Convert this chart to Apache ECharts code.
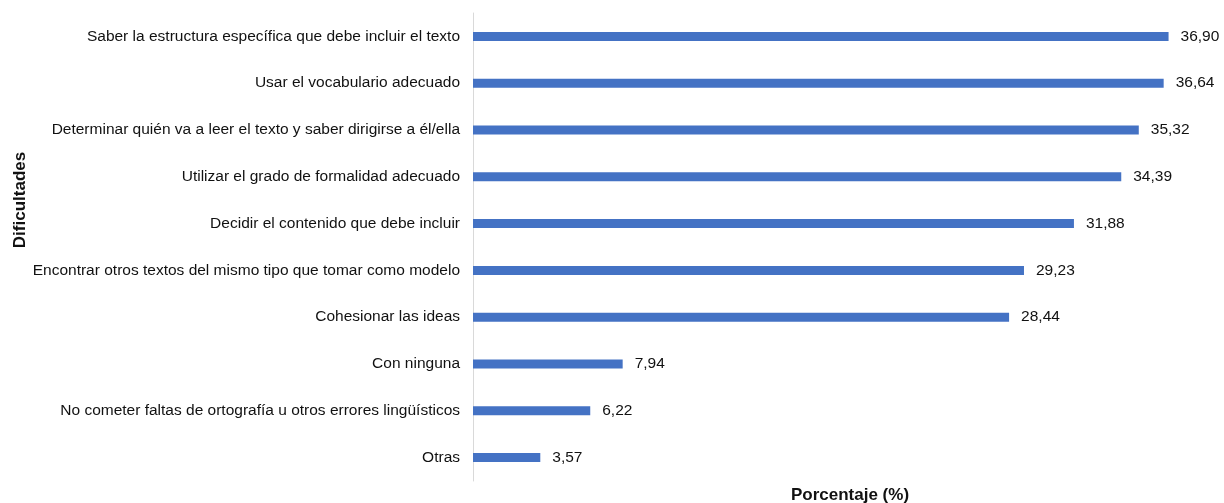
<!DOCTYPE html>
<html>
<head>
<meta charset="utf-8">
<script src="https://cdn.jsdelivr.net/npm/echarts@6/dist/echarts.min.js"></script>
<style>
  html, body { margin: 0; padding: 0; background: #fff; }
  #chart { width: 1224px; height: 503px; }
</style>
</head>
<body>
<div id="chart"></div>
<script>
// Categories listed bottom-to-top (ECharts category axis draws the first item at the bottom)
const categories = [
  'Otras',
  'No cometer faltas de ortografía u otros errores lingüísticos',
  'Con ninguna',
  'Cohesionar las ideas',
  'Encontrar otros textos del mismo tipo que tomar como modelo',
  'Decidir el contenido que debe incluir',
  'Utilizar el grado de formalidad adecuado',
  'Determinar quién va a leer el texto y saber dirigirse a él/ella',
  'Usar el vocabulario adecuado',
  'Saber la estructura específica que debe incluir el texto'
];
const percentages = [3.57, 6.22, 7.94, 28.44, 29.23, 31.88, 34.39, 35.32, 36.64, 36.90];
const xAxisTitle = 'Porcentaje (%)';
const yAxisTitle = 'Dificultades';

const FONT = '"Liberation Sans", Arial, sans-serif';
const chart = echarts.init(document.getElementById('chart'), null, { renderer: 'canvas' });

chart.setOption({
  animation: false,
  backgroundColor: '#ffffff',
  grid: {
    left: 473, top: 13, bottom: 22, width: 754,
    containLabel: false,
    outerBoundsMode: 'none'
  },
  xAxis: {
    type: 'value',
    min: 0,
    max: 40,
    splitLine: { show: false },
    axisLine: { show: false },
    axisTick: { show: false },
    axisLabel: { show: false },
    name: xAxisTitle,
    nameLocation: 'middle',
    nameGap: 6,
    nameTextStyle: {
      fontFamily: FONT, fontSize: 17, fontWeight: 'bold', color: '#111',
      verticalAlign: 'top'
    }
  },
  yAxis: {
    type: 'category',
    data: categories,
    axisLine: { show: true, lineStyle: { color: '#d9d9d9', width: 1 } },
    axisTick: { show: false },
    axisLabel: { fontFamily: FONT, fontSize: 15.5, color: '#111', margin: 13 }
  },
  graphic: [{
    type: 'text',
    x: 20,
    y: 200,
    rotation: Math.PI / 2,
    style: {
      text: yAxisTitle,
      fontFamily: FONT, fontSize: 17, fontWeight: 'bold', fill: '#111',
      align: 'center', verticalAlign: 'middle'
    }
  }],
  series: [{
    type: 'bar',
    data: percentages,
    barWidth: 9,
    itemStyle: { color: '#4472C4' },
    label: {
      show: true,
      position: 'right',
      distance: 12,
      fontFamily: FONT, fontSize: 15.5, color: '#111',
      formatter: p => p.value.toFixed(2).replace('.', ',')
    }
  }]
});
</script>
</body>
</html>
